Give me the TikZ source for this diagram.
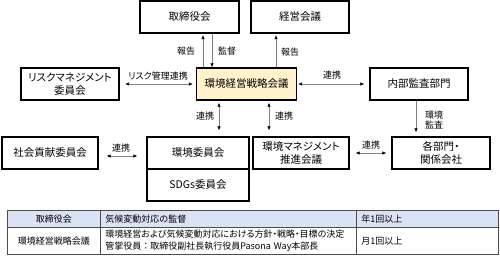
\documentclass[tikz,border=0pt]{standalone}
\usepackage{fontspec}
\setmainfont{Noto Sans CJK JP}
\newfontfamily\jpp{Noto Sans CJK JP}[RawFeature=+palt]
\usetikzlibrary{arrows.meta}
\definecolor{cfill}{HTML}{FFF2CC}
\definecolor{hfill}{HTML}{DAE3F3}
\definecolor{aline}{HTML}{808080}
\begin{document}
\begin{tikzpicture}[x=1pt,y=-1pt,
  box/.style={draw=black,line width=1.3pt,minimum height=32pt,inner sep=0pt,align=center,font=\jpp\fontsize{10.5}{13}\selectfont},
  conn/.style={draw=aline,line width=0.6pt,>={Latex[black,length=4pt,width=3.5pt]}},
  lbl/.style={font=\jpp\fontsize{9}{10.5}\selectfont,inner sep=0pt,align=center},
  cell/.style={draw=black!70,line width=0.8pt,inner sep=0pt,anchor=north west,font=\fontsize{9}{12}\selectfont},
  lcell/.style={cell,inner xsep=5pt,align=left}
]
\useasboundingbox (0,0) rectangle (500,258);

% boxes
\node[box,minimum width=99pt] (board) at (189.5,17) {取締役会};
\node[box,minimum width=98pt] (mgmt) at (300,17) {経営会議};
\node[box,minimum width=98pt] (risk) at (70,84) {リスクマネジメント\\委員会};
\node[box,minimum width=100pt,fill=cfill] (center) at (246.5,84) {環境経営戦略会議};
\node[box,minimum width=98pt] (audit) at (419,84) {内部監査部門};
\node[box,minimum width=96pt] (social) at (50,153) {社会貢献委員会};
\node[box,minimum width=102pt] (env) at (198,153) {環境委員会};
\node[box,minimum width=102pt] (sdgs) at (198,185) {SDGs委員会};
\node[box,minimum width=96pt] (ems) at (301,153) {環境マネジメント\\推進会議};
\node[box,minimum width=98pt] (dept) at (441,153) {各部門・\\関係会社};

% guide coordinates
\coordinate (xa) at (203,0);
\coordinate (xb) at (212,0);
\coordinate (xc) at (276,0);
\coordinate (xd) at (219,0);
\coordinate (xe) at (269,0);
\coordinate (xf) at (416,0);
\coordinate (ya) at (0,84);
\coordinate (yb) at (0,156);
\coordinate (yc) at (0,153);

% connectors
\draw[conn,->,shorten >=1.5pt] (center.north -| xa) -- (board.south -| xa);
\draw[conn,->] (board.south -| xb) -- (center.north -| xb);
\draw[conn,->,shorten >=1.5pt] (center.north -| xc) -- (mgmt.south -| xc);
\draw[conn,<->,shorten <=5.5pt,shorten >=3pt] (risk.east |- ya) -- (center.west |- ya);
\draw[conn,<->,shorten <=1pt,shorten >=5pt] (center.east |- ya) -- (audit.west |- ya);
\draw[conn,<->,shorten <=2pt,shorten >=6pt] (center.south -| xd) -- (env.north -| xd);
\draw[conn,<->,shorten <=2pt,shorten >=6pt] (center.south -| xe) -- (ems.north -| xe);
\draw[conn,<->,shorten <=8pt,shorten >=9pt] (social.east |- yb) -- (env.west |- yb);
\draw[conn,<->,shorten <=6pt,shorten >=5pt] (ems.east |- yc) -- (dept.west |- yc);
\draw[conn,->,shorten >=4pt] (audit.south -| xf) -- (dept.north -| xf);

% labels
\node[lbl] (l1) at (186,51) {報告};
\node[lbl] (l2) at (227,51) {監督};
\node[lbl] (l3) at (290,52) {報告};
\node[lbl] (l4) at (158,76) {リスク管理連携};
\node[lbl] (l5) at (332,75) {連携};
\node[lbl] (l6) at (205,116) {連携};
\node[lbl] (l7) at (284,116) {連携};
\node[lbl] (l8) at (121,148) {連携};
\node[lbl] (l9) at (371,145) {連携};
\node[lbl] (l10) at (434,120) {環境\\監査};

% table
\node[cell,fill=hfill,minimum width=93pt,minimum height=17pt] (t11) at (7,210) {取締役会};
\node[lcell,fill=hfill,text width=246pt,minimum height=17pt] (t12) at (100,210) {気候変動対応の監督};
\node[lcell,fill=hfill,text width=132pt,minimum height=17pt] (t13) at (356,210) {年1回以上};
\node[cell,minimum width=93pt,minimum height=27pt] (t21) at (7,227) {環境経営戦略会議};
\node[lcell,text width=246pt,minimum height=27pt] (t22) at (100,227) {{\jpp 環境経営および気候変動対応における方針・戦略・目標の決定}\\管掌役員：取締役副社長執行役員Pasona Way本部長};
\node[lcell,text width=132pt,minimum height=27pt] (t23) at (356,227) {月1回以上};
\end{tikzpicture}
\end{document}
